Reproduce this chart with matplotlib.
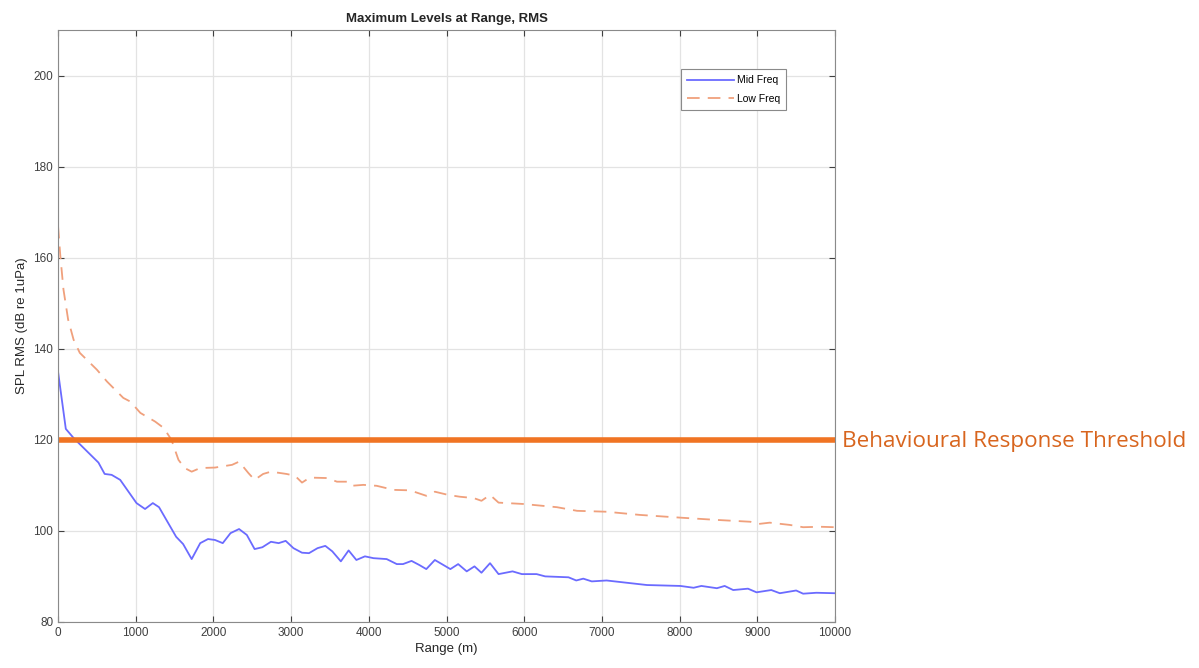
import numpy as np
import matplotlib
matplotlib.use("Agg")
from matplotlib import pyplot as plt

# Valores (alcance em m, SPL em dB re 1uPa)
mid_range = [0, 100, 200, 330, 520, 600, 690, 800, 1010, 1120, 1220, 1300, 1520, 1610,
             1720, 1830, 1930, 2020, 2120, 2220, 2330, 2430, 2530, 2630, 2740, 2840, 2930,
             3030, 3140, 3230, 3340, 3440, 3530, 3640, 3740, 3840, 3950, 4060, 4230, 4360,
             4440, 4550, 4650, 4740, 4850, 4960, 5050, 5150, 5260, 5360, 5450, 5560, 5670,
             5850, 5970, 6160, 6270, 6570, 6670, 6760, 6870, 7060, 7580, 8010, 8180, 8280,
             8480, 8580, 8690, 8880, 8990, 9180, 9290, 9500, 9590, 9760, 10000]
mid_spl = [135.0, 122.4, 120.4, 118.2, 115.0, 112.5, 112.3, 111.2, 106.1, 104.8, 106.1, 105.2,
           98.7, 97.1, 93.8, 97.3, 98.2, 98.0, 97.3, 99.5, 100.4, 99.1, 96.0, 96.4, 97.6, 97.3,
           97.8, 96.2, 95.2, 95.1, 96.2, 96.7, 95.5, 93.3, 95.7, 93.6, 94.4, 94.0, 93.8, 92.7,
           92.7, 93.4, 92.5, 91.6, 93.6, 92.5, 91.6, 92.7, 91.1, 92.2, 90.8, 92.9, 90.5, 91.1,
           90.5, 90.5, 90.0, 89.8, 89.1, 89.5, 88.9, 89.1, 88.1, 87.9, 87.5, 87.9, 87.4, 87.9,
           87.0, 87.3, 86.5, 87.0, 86.3, 86.9, 86.2, 86.4, 86.3]

low_range = [0, 30, 70, 130, 200, 280, 500, 630, 840, 930, 1060, 1250, 1360, 1460, 1550,
             1630, 1720, 1830, 2020, 2240, 2330, 2450, 2530, 2640, 2740, 2940, 3050, 3140,
             3240, 3460, 3590, 3720, 3780, 3930, 4100, 4320, 4530, 4740, 4850, 5020, 5170,
             5350, 5450, 5560, 5670, 5990, 6420, 6680, 7060, 7490, 8010, 8480, 8910, 9010,
             9160, 9420, 9590, 9810, 10000]
low_spl = [167.0, 160.3, 153.0, 146.4, 142.0, 139.1, 135.4, 132.8, 129.2, 128.4, 125.9, 124.0,
           122.6, 120.0, 115.6, 113.8, 113.0, 113.8, 113.9, 114.5, 115.2, 112.7, 111.2, 112.5,
           113.0, 112.5, 112.1, 110.6, 111.7, 111.6, 110.8, 110.8, 109.9, 110.1, 109.9, 109.0,
           108.9, 107.7, 108.6, 107.9, 107.5, 107.2, 106.6, 107.9, 106.2, 105.9, 105.2, 104.4,
           104.2, 103.5, 102.9, 102.4, 102.0, 101.5, 101.8, 101.3, 100.8, 100.9, 100.8]

limiar = 120
x_ticks = np.arange(0, 10001, 1000)
y_ticks = np.arange(80, 201, 20)

plt.rcParams["font.family"] = ["Liberation Sans", "DejaVu Sans"]

fig = plt.figure(figsize=(11.99, 6.68), dpi=100)
ax = fig.add_axes([0.0484, 0.069, 0.648, 0.886])

cinza = "#262626"
ax.plot(mid_range, mid_spl, color="#6b6bff", lw=1.3, label="Mid Freq")
ax.plot(low_range, low_spl, color="#f0a07c", lw=1.3, ls=(0, (7, 4.5)), label="Low Freq")
ax.axhline(limiar, color="#f07423", lw=4)

ax.set_xlim(0, 10000)
ax.set_ylim(80, 210)
ax.set_xticks(x_ticks)
ax.set_yticks(y_ticks)
ax.grid(True, color="#e3e3e3", lw=0.9)
ax.set_axisbelow(True)
ax.tick_params(direction="in", top=True, right=True, labelsize=8.5, colors="#404040",
               length=4)
for s in ax.spines.values():
    s.set_color("#8a8a8a")

ax.set_title("Maximum Levels at Range, RMS", fontsize=9.5, fontweight="bold", color=cinza,
             pad=6)
ax.set_xlabel("Range (m)", fontsize=9.5, color=cinza, labelpad=3)
ax.set_ylabel("SPL RMS (dB re 1uPa)", fontsize=9.5, color=cinza, labelpad=4)

leg = ax.legend(loc="upper right", bbox_to_anchor=(0.944, 0.943), fontsize=7.5,
                fancybox=False, framealpha=1, edgecolor="#8a8a8a", handlelength=4.5,
                handletextpad=0.3, borderpad=0.6, labelspacing=0.8)
leg.get_frame().set_linewidth(0.8)

fig.text(0.702, (668 - 441) / 668, "Behavioural Response Threshold", fontsize=16.2,
         color="#d8651e", family="Open Sans", va="center", ha="left")

fig.savefig("out.png", dpi=100)
